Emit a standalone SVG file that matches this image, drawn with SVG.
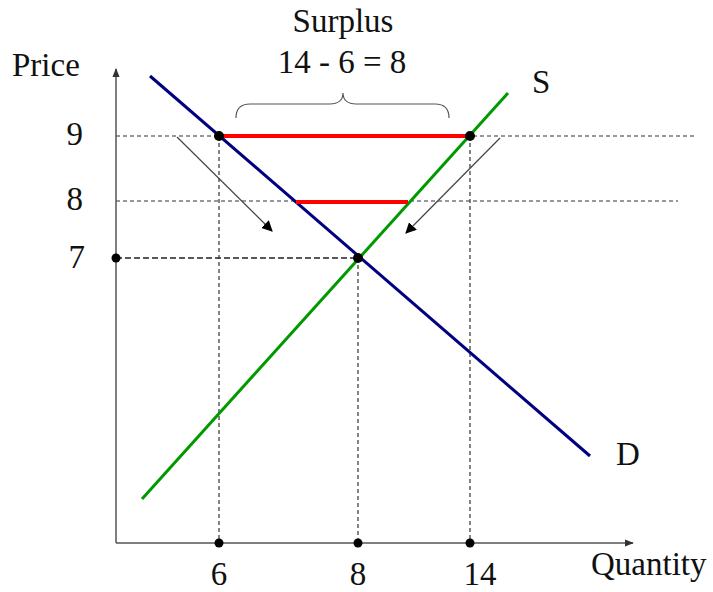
<svg xmlns="http://www.w3.org/2000/svg" width="713" height="592" viewBox="0 0 713 592">
<style>
text{font-family:"Liberation Serif","Times New Roman",serif;font-size:33px;fill:#111}
.dash{stroke:#333;stroke-width:1.2;stroke-dasharray:4 3;fill:none}
.dash7{stroke:#222;stroke-width:1.4;stroke-dasharray:6 3;fill:none}
.axis{stroke:#555;stroke-width:1.5;fill:none}
.dot{fill:#000}
.arr{stroke:#444;stroke-width:1.2;fill:none}
</style>
<defs>
<marker id="ah" viewBox="0 0 10 10" refX="9" refY="5" markerWidth="11" markerHeight="11" markerUnits="userSpaceOnUse" orient="auto">
<path d="M0,0 L10,5 L0,10 z" fill="#000"/>
</marker>
<marker id="axh" viewBox="0 0 10 10" refX="9" refY="5" markerWidth="9" markerHeight="9" markerUnits="userSpaceOnUse" orient="auto">
<path d="M0,1 L10,5 L0,9 z" fill="#333"/>
</marker>
</defs>
<g id="gridlines">
<line class="dash" x1="116" y1="136" x2="697" y2="136"/>
<line class="dash" x1="116" y1="201" x2="678" y2="201"/>
<line class="dash7" x1="116" y1="258" x2="358" y2="258"/>
<line class="dash" x1="219" y1="136" x2="219" y2="543"/>
<line class="dash" x1="358" y1="258" x2="358" y2="543"/>
<line class="dash" x1="470" y1="136" x2="470" y2="543"/>
</g>
<g id="axes">
<line class="axis" x1="116" y1="543" x2="116" y2="69" marker-end="url(#axh)"/>
<line class="axis" x1="116" y1="543" x2="633" y2="543" marker-end="url(#axh)"/>
</g>
<g id="curves">
<line x1="150" y1="76" x2="590" y2="456" stroke="#000080" stroke-width="3"/>
<line x1="142" y1="499" x2="508" y2="93" stroke="#009a00" stroke-width="3"/>
<line x1="219" y1="136" x2="469" y2="136" stroke="#ff0000" stroke-width="4"/>
<line x1="296" y1="202" x2="408" y2="202" stroke="#ff0000" stroke-width="4"/>
</g>
<g id="connectors">
<line class="arr" x1="177" y1="137" x2="272" y2="231" marker-end="url(#ah)"/>
<line class="arr" x1="500" y1="138" x2="406" y2="233" marker-end="url(#ah)"/>
<path d="M236,118 C236,109 240,104 250,104 L330,104 C338,104 343,100 343,93 C343,100 348,104 356,104 L435,104 C445,104 449,109 449,118" fill="none" stroke="#555" stroke-width="1.2"/>
</g>
<g id="dots">
<circle class="dot" cx="219" cy="136" r="5"/>
<circle class="dot" cx="470" cy="136" r="5"/>
<circle class="dot" cx="358" cy="258" r="5"/>
<circle class="dot" cx="116" cy="258" r="4.5"/>
<circle class="dot" cx="219" cy="543" r="4.5"/>
<circle class="dot" cx="358" cy="543" r="4.5"/>
<circle class="dot" cx="470" cy="543" r="4.5"/>
</g>
<g id="labels">
<text x="343" y="32" text-anchor="middle">Surplus</text>
<text x="342" y="73" text-anchor="middle">14 - 6 = 8</text>
<text x="12" y="76">Price</text>
<text x="83" y="145" text-anchor="end">9</text>
<text x="83" y="210" text-anchor="end">8</text>
<text x="85" y="268" text-anchor="end">7</text>
<text x="532" y="93">S</text>
<text x="616" y="465">D</text>
<text x="219" y="585" text-anchor="middle">6</text>
<text x="358" y="585" text-anchor="middle">8</text>
<text x="480" y="585" text-anchor="middle">14</text>
<text x="591" y="575">Quantity</text>
</g>
</svg>
